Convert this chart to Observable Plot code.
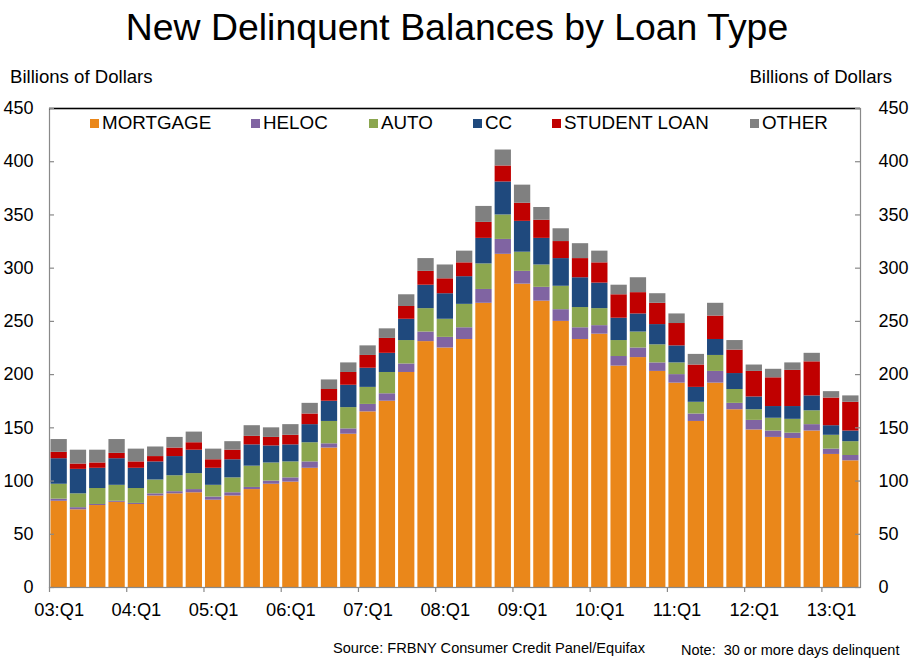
<!DOCTYPE html>
<html>
<head>
<meta charset="utf-8">
<script src="https://cdn.jsdelivr.net/npm/d3@7"></script>
<script src="https://cdn.jsdelivr.net/npm/@observablehq/plot@0.6"></script>
<style>
  html, body { margin: 0; padding: 0; background: #fff; }
  #wrap { position: relative; width: 910px; height: 662px; font-family: "Liberation Sans", Arial, sans-serif; color: #000; overflow: hidden; }
  #wrap svg { position: absolute; left: 0; top: 0; }
  .t { position: absolute; white-space: pre; line-height: 1; }
  .lg { position: absolute; top: 114px; font-size: 18.8px; line-height: 18px; white-space: pre; }
  .sw { position: absolute; width: 9px; height: 9px; top: 119px; }
</style>
</head>
<body>
<div id="wrap"></div>
<script>
const quarters = [
  "03:Q1","03:Q2","03:Q3","03:Q4","04:Q1","04:Q2","04:Q3","04:Q4",
  "05:Q1","05:Q2","05:Q3","05:Q4","06:Q1","06:Q2","06:Q3","06:Q4",
  "07:Q1","07:Q2","07:Q3","07:Q4","08:Q1","08:Q2","08:Q3","08:Q4",
  "09:Q1","09:Q2","09:Q3","09:Q4","10:Q1","10:Q2","10:Q3","10:Q4",
  "11:Q1","11:Q2","11:Q3","11:Q4","12:Q1","12:Q2","12:Q3","12:Q4",
  "13:Q1","13:Q2"
];
const xTickLabels = ["03:Q1","04:Q1","05:Q1","06:Q1","07:Q1","08:Q1","09:Q1","10:Q1","11:Q1","12:Q1","13:Q1"];
const yTicks = [0,50,100,150,200,250,300,350,400,450];

const mortgage = [81,73,77,80, 78,86,88,89, 82,86,92,97, 99,112,131,144, 165,175,202,231, 225,233,267,313, 285,269,250,233, 238,208,216,203, 192,156,192,167, 148,141,140,147, 125,119];
const heloc    = [2,2,1,1, 1,2,2,3, 3,3,2,3, 4,6,4,5, 7,7,8,9, 10,11,13,14, 12,13,11,11, 8,9,9,8, 8,7,11,6, 9,6,5,6, 5,5];
const auto     = [14,13,15,15, 14,13,15,15, 11,14,20,17, 15,18,21,20, 16,20,22,22, 17,22,24,23, 18,21,22,19, 16,15,15,17, 11,11,15,13, 10,12,13,13, 13,13];
const cc       = [24,23,19,25, 19,17,18,22, 16,17,20,16, 16,17,19,21, 18,18,20,22, 24,26,24,31, 29,25,26,28, 24,21,17,19, 16,14,15,15, 12,11,12,14, 9,10];
const student  = [6,5,5,5, 6,5,8,7, 8,9,8,8, 9,10,11,12, 12,14,12,13, 14,13,15,15, 17,17,16,18, 19,22,20,20, 21,21,22,22, 24,27,34,32, 26,27];
const other    = [12,13,12,13, 12,9,10,10, 10,8,10,9, 10,10,9,9, 9,9,11,12, 13,11,15,15, 17,12,12,14, 11,9,14,9, 9,10,12,9, 6,8,7,8, 6,6];

const seriesNames = ["MORTGAGE","HELOC","AUTO","CC","STUDENT LOAN","OTHER"];
const seriesValues = [mortgage, heloc, auto, cc, student, other];
const seriesColors = ["#EA871A","#8064A2","#8BA64F","#1F497D","#C00000","#808080"];

const data = [];
quarters.forEach((q, i) => {
  seriesNames.forEach((s, j) => data.push({q, type: s, value: seriesValues[j][i]}));
});

const W = 910, H = 662;
const mL = 49, mR = 50, mT = 108, mB = 75;
const plotW = W - mL - mR;
const plotH = H - mT - mB;
const step = plotW / quarters.length;
const axisGray = "#898989";

const chart = Plot.plot({
  width: W,
  height: H,
  marginLeft: mL,
  marginRight: mR,
  marginTop: mT,
  marginBottom: mB,
  style: {fontFamily: "'Liberation Sans', Arial, sans-serif", background: "transparent", color: "#000"},
  x: {type: "band", domain: quarters, paddingInner: 0.155, paddingOuter: 0.0775, round: false, label: null},
  y: {domain: [0, 450], label: null},
  color: {domain: seriesNames, range: seriesColors},
  marks: [
    Plot.barY(data, {x: "q", y: "value", fill: "type"}),
    Plot.frame({stroke: axisGray, strokeWidth: 1.2}),
    Plot.ruleY([450], {stroke: "#000", strokeWidth: 1.3}),
    Plot.tickY(yTicks, {y: d => d, insetRight: plotW - 5, stroke: axisGray, strokeWidth: 1.2}),
    Plot.tickY(yTicks, {y: d => d, insetLeft: plotW - 5, stroke: axisGray, strokeWidth: 1.2}),
    Plot.tickX(xTickLabels, {x: d => d, dx: -step / 2, insetTop: plotH, insetBottom: -5, stroke: axisGray, strokeWidth: 1.2}),
    Plot.axisY({anchor: "left", ticks: yTicks, tickSize: 0, tickPadding: 16, fontSize: 18, tickFormat: d => String(d), label: null}),
    Plot.axisY({anchor: "right", ticks: yTicks, tickSize: 0, tickPadding: 18, fontSize: 18, tickFormat: d => String(d), label: null}),
    Plot.axisX({anchor: "bottom", ticks: xTickLabels, tickSize: 0, tickPadding: 15, fontSize: 18.3, label: null})
  ]
});

const wrap = document.getElementById("wrap");
wrap.appendChild(chart);

function addText(txt, css) {
  const d = document.createElement("div");
  d.className = "t";
  d.textContent = txt;
  Object.assign(d.style, css);
  wrap.appendChild(d);
  return d;
}

addText("New Delinquent Balances by Loan Type", {left: "0px", width: "914px", textAlign: "center", top: "9px", fontSize: "37.4px", lineHeight: "37px"});
addText("Billions of Dollars", {left: "10px", top: "68px", fontSize: "18.6px", lineHeight: "18px"});
addText("Billions of Dollars", {right: "18px", top: "68px", fontSize: "18.6px", lineHeight: "18px"});
addText("Source: FRBNY Consumer Credit Panel/Equifax", {left: "333px", top: "641px", fontSize: "14.6px", lineHeight: "14.5px"});
addText("Note:  30 or more days delinquent", {left: "681px", top: "643px", fontSize: "14.5px", lineHeight: "14.5px"});

const legendSwatchX = [90, 251, 369, 473, 552, 750];
seriesNames.forEach((s, j) => {
  const sw = document.createElement("div");
  sw.className = "sw";
  sw.style.left = legendSwatchX[j] + "px";
  sw.style.background = seriesColors[j];
  wrap.appendChild(sw);
  const t = document.createElement("div");
  t.className = "lg";
  t.style.left = (legendSwatchX[j] + 12) + "px";
  t.textContent = s;
  wrap.appendChild(t);
});
</script>
</body>
</html>
